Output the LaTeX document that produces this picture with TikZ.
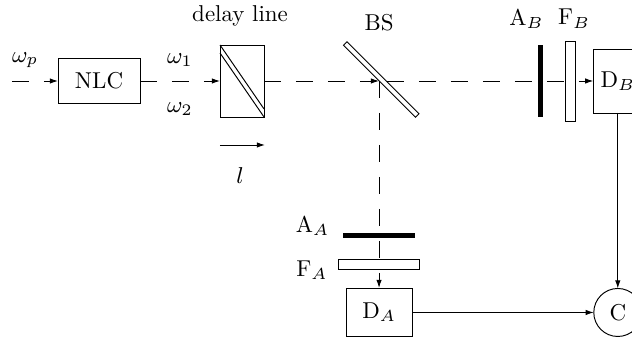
\documentclass[tikz,border=0pt]{standalone}
\usepackage{fix-cm}
\usepackage{amsmath,amssymb}
\usetikzlibrary{arrows.meta,calc,positioning}
\tikzset{
  >={Latex[length=1.2mm,width=0.8mm]},
  every node/.style={font=\fontsize{9.6}{11}\selectfont},
  beam/.style={dash pattern=on 0.25cm off 0.22cm},
  box/.style={draw,inner sep=0pt,outer sep=0pt},
  plate/.style={draw,fill=white,inner sep=0pt,outer sep=0pt},
  stopper/.style={fill=black,inner sep=0pt,outer sep=0pt},
}
\begin{document}
\begin{tikzpicture}[scale=1.0]
  \useasboundingbox (0,0) rectangle (9.294,4.985);
  % optical elements
  \node[box,minimum width=1.206cm,minimum height=0.676cm] (NLC) at (1.456,3.794) {NLC};
  \node[box,minimum width=0.647cm,minimum height=1.059cm] (delay) at (3.559,3.794) {};
  \node[plate,rotate=-45,minimum width=1.497cm,minimum height=0.073cm] (BS) at (5.606,3.816) {};
  \node[stopper,minimum width=0.07cm,minimum height=1.059cm] (AB) at (7.946,3.794) {};
  \node[plate,minimum width=0.147cm,minimum height=1.176cm] (FB) at (8.382,3.794) {};
  \node[box,minimum width=0.72cm,minimum height=0.941cm] (DB) at (9.085,3.794) {D$_B$};
  \node[stopper,minimum width=1.059cm,minimum height=0.074cm] (AA) at (5.574,1.522) {};
  \node[plate,minimum width=1.199cm,minimum height=0.14cm] (FA) at (5.574,1.092) {};
  \node[box,minimum width=0.971cm,minimum height=0.72cm] (DA) at (5.574,0.39) {D$_A$};
  \node[box,circle,minimum size=0.706cm] (C) at (9.085,0.39) {C};
  \draw (delay.north west) -- ($(delay.south east)+(0,0.118)$);
  \draw ($(delay.north west)+(0,-0.118)$) -- (delay.south east);
  % beams
  \coordinate (pump) at (0.176,3.794);
  \coordinate (hit) at (5.574,3.794);
  \coordinate (out) at (5.691,3.794);
  \draw[beam,->] (pump) -- (NLC.west);
  \draw[beam,->] (NLC.east) -- (delay.west);
  \draw[beam,->] (delay.east) -- (hit);
  \draw[beam,->] (out) -- (DB.west);
  \draw[beam,->] (hit) -- (DA.north);
  \draw[->] (DB.south) -- (C.north);
  \draw[->] (DA.east) -- (C.west);
  % shift of the delay line
  \coordinate (l0) at (3.235,2.853);
  \coordinate (l1) at (3.897,2.853);
  \draw[->] (l0) -- (l1);
  % labels
  \node (delaylab) at (3.53,4.75) {delay line};
  \node (BSlab) at (5.574,4.65) {BS};
  \node (ABlab) at (7.74,4.71) {A$_B$};
  \node (FBlab) at (8.44,4.71) {F$_B$};
  \node (AAlab) at (4.595,1.67) {A$_A$};
  \node (FAlab) at (4.585,1.01) {F$_A$};
  \node (wp) at (0.37,4.10) {$\omega_p$};
  \node (w1) at (2.645,4.10) {$\omega_1$};
  \node (w2) at (2.645,3.385) {$\omega_2$};
  \node (llab) at (3.53,2.397) {$l$};
\end{tikzpicture}
\end{document}
